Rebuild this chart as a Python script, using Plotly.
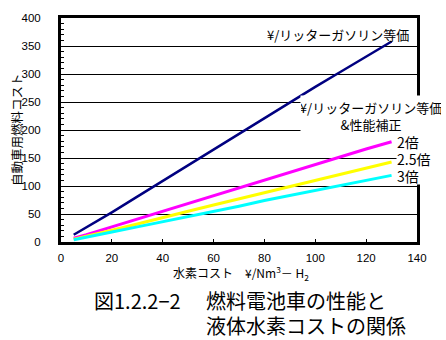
import plotly.graph_objects as go

# Hydrogen cost (¥/Nm3-H2)
h2_cost = [5, 10, 20, 30, 40, 50, 60, 70, 80, 90, 100, 110, 120, 130]

# Vehicle fuel cost equivalent
gasoline_equiv = [13, 26, 53, 81, 109, 137, 165, 193, 222, 249, 277, 304, 331, 358]
perf_x2 = [7, 13, 27, 41, 55, 69, 83, 97, 111, 125, 139, 152, 166, 179]
perf_x25 = [5, 10, 21, 32, 44, 55, 66, 77, 89, 100, 111, 122, 132, 143]
perf_x3 = [4, 9, 18, 27, 36, 46, 55, 64, 74, 83, 92, 101, 110, 119]

series = [
    ("¥/リッターガソリン等価", gasoline_equiv, "#000080", 2.5),
    ("2倍", perf_x2, "#FF00FF", 3),
    ("2.5倍", perf_x25, "#FFFF00", 3),
    ("3倍", perf_x3, "#00FFFF", 3),
]

W, H = 446, 340
L, R, T, B = 61, 29, 14, 98
PW, PH = W - L - R, H - T - B


def px(x):
    return (x - L) / PW


def py(y):
    return (H - B - y) / PH


JP = "Noto Sans CJK JP"
NUM = "Liberation Sans"

fig = go.Figure()
for name, vals, color, lw in series:
    fig.add_trace(go.Scatter(x=h2_cost, y=vals, mode="lines", name=name,
                             line=dict(color=color, width=lw), showlegend=False))

ann = []
# series labels
ann.append(dict(text="¥/リッターガソリン等価", x=px(265), y=py(31), xanchor="left",
                yanchor="middle", font=dict(family=JP, size=13, color="black")))
ann.append(dict(text="¥/リッターガソリン等価<br>&性能補正", x=px(371), y=py(114),
                xanchor="center", yanchor="middle", width=140, height=40,
                bgcolor="white", borderpad=0, align="center",
                font=dict(family=JP, size=13, color="black")))
for txt, y0, y1 in [("2倍", 130, 149), ("2.5倍", 149, 166), ("3倍", 166, 183)]:
    ann.append(dict(text=txt, x=px(396), y=py((y0 + y1) / 2), xanchor="left",
                    yanchor="middle", width=48, height=y1 - y0, bgcolor="white",
                    borderpad=0, align="left", valign="middle",
                    font=dict(family=JP, size=14, color="black")))

# axis titles
ann.append(dict(text="自動車用燃料コスト", x=px(16), y=0.5, textangle=-90,
                xanchor="center", yanchor="middle",
                font=dict(family=JP, size=12.5, color="black")))
ann.append(dict(text="水素コスト　¥/Nm<sup>3</sup>－ H<sub>2</sub>", x=px(171), y=py(274),
                xanchor="left", yanchor="middle",
                font=dict(family=JP, size=12, color="black")))

# caption
ann.append(dict(text="図1.2.2−2", x=px(92), y=py(302), xanchor="left", yanchor="middle",
                font=dict(family=JP, size=20, color="black")))
ann.append(dict(text="燃料電池車の性能と", x=px(204), y=py(302), xanchor="left",
                yanchor="middle", font=dict(family=JP, size=20, color="black")))
ann.append(dict(text="液体水素コストの関係", x=px(204), y=py(327), xanchor="left",
                yanchor="middle", font=dict(family=JP, size=20, color="black")))

for a in ann:
    a.update(xref="paper", yref="paper", showarrow=False)

fig.update_layout(
    width=W, height=H,
    margin=dict(l=L, r=R, t=T, b=B, pad=0),
    paper_bgcolor="white", plot_bgcolor="white",
    annotations=ann,
    xaxis=dict(range=[0, 140], dtick=20, showgrid=False, zeroline=False,
               showline=True, linecolor="black", linewidth=3, mirror=True,
               ticks="inside", ticklen=3, tickcolor="black", tickwidth=1,
               ticklabelstandoff=3,
               tickfont=dict(family=NUM, size=11.5, color="black")),
    yaxis=dict(range=[0, 400], dtick=50, showgrid=True, gridcolor="black",
               gridwidth=1, zeroline=False, showline=True, linecolor="black",
               linewidth=3, mirror=True, ticks="inside", ticklen=3,
               tickcolor="black", tickwidth=1, ticklabelstandoff=15,
               minor=dict(dtick=10, ticks="inside", ticklen=3, tickcolor="black",
                          showgrid=False),
               tickfont=dict(family=NUM, size=11.5, color="black")),
)

fig.write_html("out.html")
